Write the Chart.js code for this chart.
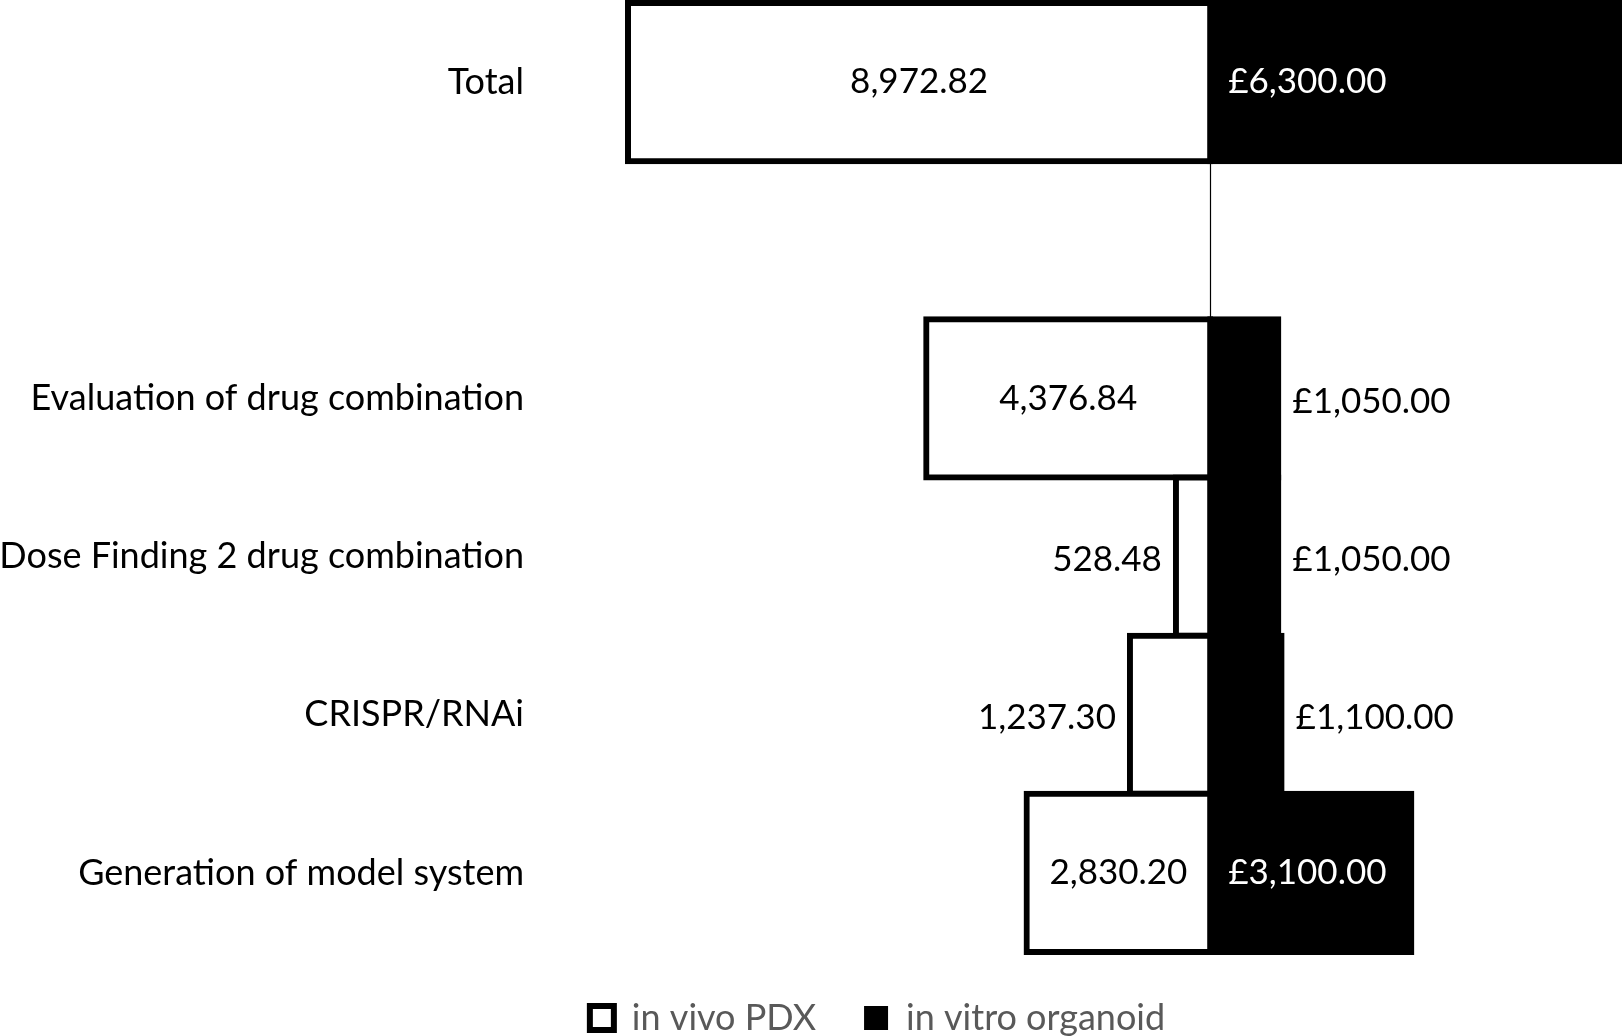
<!DOCTYPE html>
<html>
<head>
<meta charset="utf-8">
<script src="https://cdn.jsdelivr.net/npm/chart.js@4.4.1/dist/chart.umd.min.js"></script>
<style>
  html, body { margin: 0; padding: 0; background: #fff; }
  #wrap { width: 1622px; height: 1036px; position: relative; }
</style>
</head>
<body>
<div id="wrap"><canvas id="costChart"></canvas></div>
<script>
// Dữ liệu
const categories = ['Total', '', 'Evaluation of drug combination', 'Dose Finding 2 drug combination', 'CRISPR/RNAi', 'Generation of model system'];
const pdxCost = [8972.82, null, 4376.84, 528.48, 1237.30, 2830.20];      // in vivo PDX (trái)
const organoidCost = [6300.00, null, 1050.00, 1050.00, 1100.00, 3100.00]; // in vitro organoid (phải)
const seriesNames = ['in vivo PDX', 'in vitro organoid'];

const FONT = 'Lato';
const CAT_SIZE = 36;
const VAL_SIZE = 35;
const LEG_SIZE = 36;

const fmt = v => v.toLocaleString('en-GB', { minimumFractionDigits: 2, maximumFractionDigits: 2 });

// Đường trục tại 0 (chỉ thấy ở hàng trống)
const zeroLine = {
    id: 'zeroLine',
    beforeDatasetsDraw(chart) {
        const { ctx, chartArea } = chart;
        const x = Math.round(chart.scales.x.getPixelForValue(0)) + 0.5;
        ctx.save();
        ctx.strokeStyle = '#000';
        ctx.lineWidth = 1.2;
        ctx.beginPath();
        ctx.moveTo(x, chartArea.top);
        ctx.lineTo(x, chartArea.bottom);
        ctx.stroke();
        ctx.restore();
    }
};

// Legend lệch phải một chút như bản gốc
const legendShift = {
    id: 'legendShift',
    afterLayout(chart) {
        if (chart.legend) {
            chart.legend.left += 68;
            chart.legend.right += 68;
        }
    }
};

// Nhãn giá trị: trong thanh nếu vừa, ngoài thanh nếu không
const valueLabels = {
    id: 'valueLabels',
    afterDatasetsDraw(chart) {
        const ctx = chart.ctx;
        ctx.save();
        ctx.font = `${VAL_SIZE}px ${FONT}`;
        ctx.textBaseline = 'middle';
        chart.data.datasets.forEach((ds, di) => {
            const meta = chart.getDatasetMeta(di);
            meta.data.forEach((bar, i) => {
                const v = ds.data[i];
                if (v == null) return;
                const text = (di === 1 ? '£' : '') + fmt(Math.abs(v));
                const w = ctx.measureText(text).width;
                const barW = Math.abs(bar.x - bar.base);
                const fits = w + 24 < barW;
                if (di === 0) {
                    ctx.fillStyle = '#000';
                    if (fits) {
                        ctx.textAlign = 'center';
                        ctx.fillText(text, (bar.x + bar.base) / 2, bar.y);
                    } else {
                        ctx.textAlign = 'right';
                        ctx.fillText(text, bar.x - 14, bar.y + 3);
                    }
                } else {
                    ctx.textAlign = 'left';
                    if (fits) {
                        ctx.fillStyle = '#fff';
                        ctx.fillText(text, bar.base + 18, bar.y);
                    } else {
                        ctx.fillStyle = '#000';
                        ctx.fillText(text, bar.x + 14, bar.y + 3);
                    }
                }
            });
        });
        ctx.restore();
    }
};

const ctx = document.getElementById('costChart');
new Chart(ctx, {
    type: 'bar',
    data: {
        labels: categories,
        datasets: [
            {
                label: seriesNames[0],
                data: pdxCost.map(v => v == null ? null : -v),
                backgroundColor: '#fff',
                borderColor: '#000',
                borderWidth: 6,
                inflateAmount: 3,
                borderSkipped: false
            },
            {
                label: seriesNames[1],
                data: organoidCost,
                backgroundColor: '#000',
                borderColor: '#000',
                borderWidth: 6,
                inflateAmount: 3,
                borderSkipped: false
            }
        ]
    },
    options: {
        indexAxis: 'y',
        responsive: true,
        maintainAspectRatio: false,
        animation: false,
        datasets: { bar: { barPercentage: 1, categoryPercentage: 1, clip: false } },
        layout: { padding: { left: 0, top: 3, right: 3, bottom: 0 } },
        plugins: {
            tooltip: { enabled: false },
            legend: {
                position: 'bottom',
                maxHeight: 84,
                labels: {
                    font: { family: FONT, size: LEG_SIZE },
                    color: '#595959',
                    boxWidth: 24,
                    boxHeight: 24,
                    padding: 48,
                    generateLabels(chart) {
                        const items = Chart.defaults.plugins.legend.labels.generateLabels(chart);
                        items.forEach(it => { it.lineWidth = it.datasetIndex === 0 ? 6 : 0; });
                        return items;
                    }
                }
            }
        },
        scales: {
            x: {
                stacked: true,
                display: false,
                min: -Math.max(...pdxCost.filter(v => v != null)),
                max: Math.max(...organoidCost.filter(v => v != null))
            },
            y: {
                stacked: true,
                grid: { display: false, drawTicks: false },
                border: { display: false },
                ticks: {
                    font: { family: FONT, size: CAT_SIZE },
                    color: '#000',
                    padding: 104
                },
                afterFit(scale) {
                    scale.width = 628;
                    scale.paddingTop = 0;
                    scale.paddingBottom = 0;
                }
            }
        }
    },
    plugins: [zeroLine, valueLabels, legendShift]
});
</script>
</body>
</html>
